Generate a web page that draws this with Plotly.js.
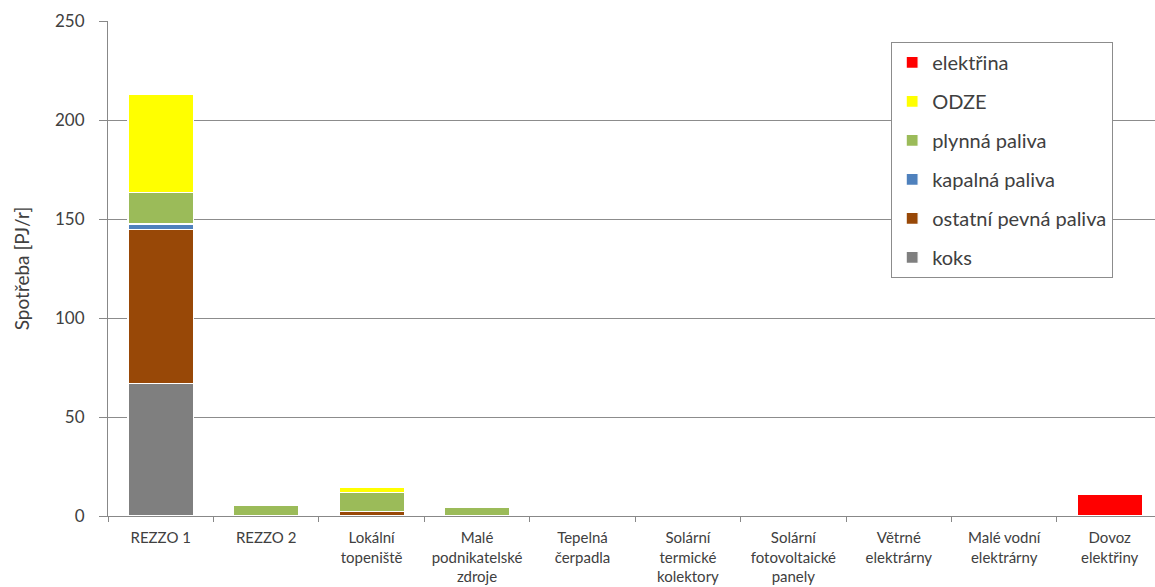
<!DOCTYPE html>
<html>
<head>
<meta charset="utf-8">
<script src="https://cdn.plot.ly/plotly-3.0.1.min.js"></script>
<style>html,body{margin:0;padding:0;background:#fff;}#chart{width:1155px;height:587px;}</style>
</head>
<body>
<div id="chart"></div>
<script>
const categories = ["REZZO 1", "REZZO 2", "Lokální<br>topeniště", "Malé<br>podnikatelské<br>zdroje", "Tepelná<br>čerpadla", "Solární<br>termické<br>kolektory", "Solární<br>fotovoltaické<br>panely", "Větrné<br>elektrárny", "Malé vodní<br>elektrárny", "Dovoz<br>elektřiny"];
const koks = [67, 0, 0, 0, 0, 0, 0, 0, 0, 0];
const ostatniPevna = [77.5, 0, 2.2, 0, 0, 0, 0, 0, 0, 0];
const kapalna = [3, 0, 0, 0, 0, 0, 0, 0, 0, 0];
const plynna = [16, 5.5, 9.8, 4.2, 0, 0, 0, 0, 0, 0];
const odze = [49.5, 0, 2.5, 0, 0, 0, 0, 0, 0, 0];
const elektrina = [0, 0, 0, 0, 0, 0, 0, 0, 0, 11];
const seriesNames = ["koks", "ostatní pevná paliva", "kapalná paliva", "plynná paliva", "ODZE", "elektřina"];
const yTicks = [0, 50, 100, 150, 200, 250];

const seriesValues = [koks, ostatniPevna, kapalna, plynna, odze, elektrina];
const colors = ["#7f7f7f", "#984807", "#4f81bd", "#9bbb59", "#ffff00", "#ff0000"];

const traces = seriesValues.map((vals, i) => ({
  type: "bar",
  name: seriesNames[i],
  x: categories,
  y: vals,
  legendgroup: "g" + i,
  legendrank: 1000 + (seriesValues.length - i),
  marker: {color: colors[i], line: {color: "#ffffff", width: 1.2}},
  hoverinfo: "x+y+name"
}));

const layout = {
  width: 1155, height: 587,
  margin: {l: 108, r: 0, t: 21, b: 71},
  barmode: "stack",
  bargap: 0.38,
  paper_bgcolor: "#ffffff",
  plot_bgcolor: "#ffffff",
  font: {family: "Lato, 'Open Sans', sans-serif", color: "#404040"},
  xaxis: {
    type: "category",
    range: [-0.5, 9.43],
    tickson: "boundaries",
    ticks: "outside",
    ticklen: 5,
    tickcolor: "#888888",
    showline: true,
    linecolor: "#888888",
    linewidth: 1,
    showgrid: false,
    tickfont: {size: 15, color: "#404040"},
    ticklabelstandoff: 8,
    tickangle: 0,
    automargin: false
  },
  yaxis: {
    range: [0, 250],
    tickvals: yTicks,
    ticktext: yTicks.map(String),
    ticks: "outside",
    ticklen: 8,
    tickcolor: "#888888",
    showline: true,
    linecolor: "#888888",
    linewidth: 1,
    showgrid: true,
    gridcolor: "#8c8c8c",
    gridwidth: 1,
    zeroline: false,
    tickfont: {size: 17, color: "#404040"},
    ticklabelstandoff: 11,
    title: {text: "Spotřeba [PJ/r]", font: {size: 19, color: "#404040"}, standoff: 20},
    automargin: false
  },
  legend: {
    x: 0.748, y: 0.958, xanchor: "left", yanchor: "top",
    traceorder: "grouped",
    tracegroupgap: 10,
    bgcolor: "#ffffff",
    bordercolor: "#8c8c8c",
    borderwidth: 1,
    font: {size: 20, color: "#404040"},
    itemwidth: 30
  },
  showlegend: true
};

Plotly.newPlot("chart", traces, layout, {displayModeBar: false, staticPlot: true});
</script>
</body>
</html>
